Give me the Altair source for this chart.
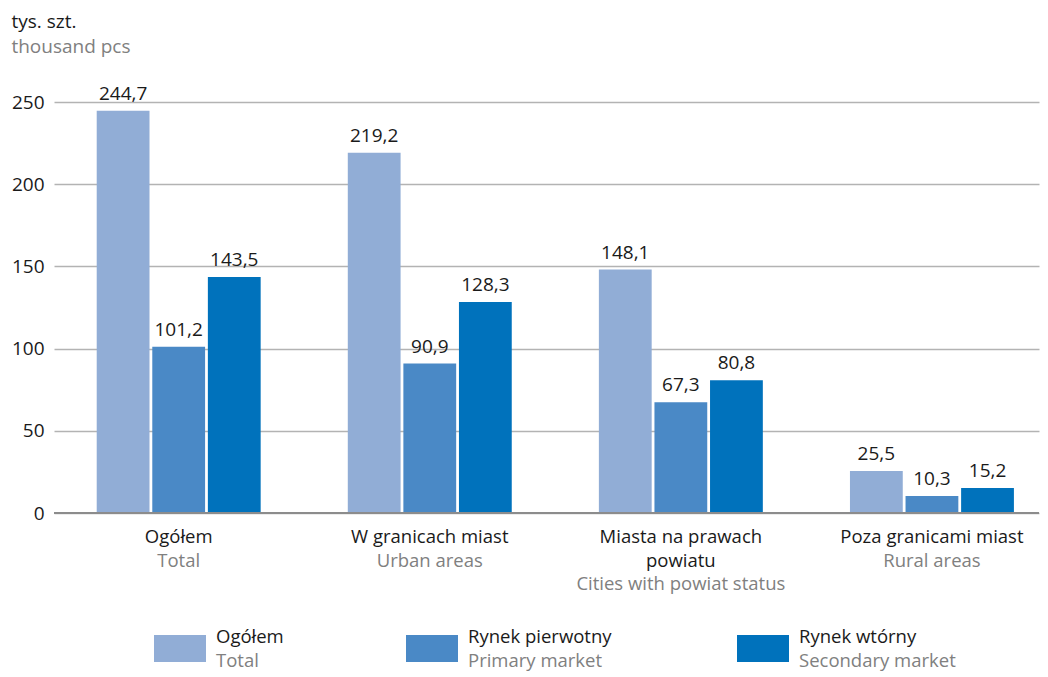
import altair as alt
import pandas as pd

# ---- data ----
categories_pl = ["Ogółem", "W granicach miast", "Miasta na prawach\npowiatu", "Poza granicami miast"]
categories_en = ["Total", "Urban areas", "Cities with powiat status", "Rural areas"]
series_pl = ["Ogółem", "Rynek pierwotny", "Rynek wtórny"]
series_en = ["Total", "Primary market", "Secondary market"]
total_vals = [244.7, 219.2, 148.1, 25.5]
primary_vals = [101.2, 90.9, 67.3, 10.3]
secondary_vals = [143.5, 128.3, 80.8, 15.2]
y_ticks = [0, 50, 100, 150, 200, 250]
colors = ["#91ADD6", "#4A89C6", "#0072BC"]

# ---- style ----
FONT = "Open Sans"
FS = 19
FS2 = 18.5
BLACK = "#1a1a1a"
GRAY = "#808080"
W, H = 985, 411
LH = 23.6
legend_left = [100, 352, 683]   # swatch left edges in plot coordinates (layout)

rows = []
for s, vals in zip(series_pl, [total_vals, primary_vals, secondary_vals]):
    for c, v in zip(categories_pl, vals):
        rows.append({"cat": c, "series": s, "value": v})
df = pd.DataFrame(rows)

cat_df = pd.DataFrame({
    "cat": categories_pl,
    "pl": categories_pl,
    "en": categories_en,
    "nlines": [c.count("\n") + 1 for c in categories_pl],
})

xscale = alt.Scale(paddingInner=0.347, paddingOuter=0.135, align=0.63)
X = alt.X("cat:N", sort=categories_pl, scale=xscale, axis=None)
XO = alt.XOffset("series:N", sort=series_pl, scale=alt.Scale(paddingInner=0.05))
Y = alt.Y("value:Q", scale=alt.Scale(domain=[0, 250], nice=False),
          axis=alt.Axis(values=y_ticks, title=None, domain=False, ticks=False,
                        labelFont=FONT, labelFontSize=FS, labelColor=BLACK,
                        labelPadding=10, gridColor="#b3b3b3", gridWidth=1.5))

bars = alt.Chart(df).mark_bar().encode(
    x=X, xOffset=XO, y=Y,
    color=alt.Color("series:N", sort=series_pl,
                    scale=alt.Scale(domain=series_pl, range=colors), legend=None),
)

labels = alt.Chart(df).transform_calculate(
    lab="replace(format(datum.value, '.1f'), '.', ',')"
).mark_text(dy=-11, baseline="alphabetic", font=FONT, fontSize=FS, color=BLACK).encode(
    x=X, xOffset=XO, y=alt.Y("value:Q"), text="lab:N"
)

zero = alt.Chart(pd.DataFrame({"v": [0]})).mark_rule(color="#8c8c8c", strokeWidth=1.8).encode(
    y=alt.Y("v:Q")
)

cat_black = alt.Chart(cat_df).mark_text(
    baseline="line-top", lineBreak="\n", lineHeight=LH, font=FONT, fontSize=FS2, color=BLACK
).encode(x=alt.X("cat:N", sort=categories_pl, scale=xscale, axis=None),
         y=alt.value(H + 13), text="pl:N")

cat_gray_layers = []
for n in sorted(set(cat_df["nlines"])):
    cat_gray_layers.append(
        alt.Chart(cat_df).transform_filter(f"datum.nlines == {n}").mark_text(
            baseline="line-top", lineHeight=LH, font=FONT, fontSize=FS2, color=GRAY
        ).encode(x=alt.X("cat:N", sort=categories_pl, scale=xscale, axis=None),
                 y=alt.value(H + 13 + LH * n), text="en:N")
    )

legend_layers = []
for i, (spl, sen, col) in enumerate(zip(series_pl, series_en, colors)):
    d = pd.DataFrame({"pl": [spl], "en": [sen]})
    lx = legend_left[i]
    legend_layers.append(
        alt.Chart(d).mark_rect(color=col).encode(
            x=alt.value(lx), x2=alt.value(lx + 52),
            y=alt.value(H + 122), y2=alt.value(H + 149))
    )
    legend_layers.append(
        alt.Chart(d).mark_text(align="left", baseline="middle",
                               font=FONT, fontSize=FS2, color=BLACK).encode(
            x=alt.value(lx + 62), y=alt.value(H + 124), text="pl:N")
    )
    legend_layers.append(
        alt.Chart(d).mark_text(align="left", baseline="middle",
                               font=FONT, fontSize=FS2, color=GRAY).encode(
            x=alt.value(lx + 62), y=alt.value(H + 124 + LH), text="en:N")
    )

chart = alt.layer(bars, zero, labels, cat_black, *cat_gray_layers, *legend_layers).properties(
    width=W, height=H,
    padding={"left": 3, "right": 0, "top": 4, "bottom": 3},
    title=alt.TitleParams(
        "tys. szt.", subtitle="thousand pcs", anchor="start", frame="bounds",
        font=FONT, fontSize=FS, fontWeight="normal", color=BLACK,
        subtitleFont=FONT, subtitleFontSize=FS, subtitleColor=GRAY,
        subtitlePadding=6, offset=28,
    ),
).configure_view(stroke=None)

chart.save("out.html", embed_options={"renderer": "svg", "actions": False})
